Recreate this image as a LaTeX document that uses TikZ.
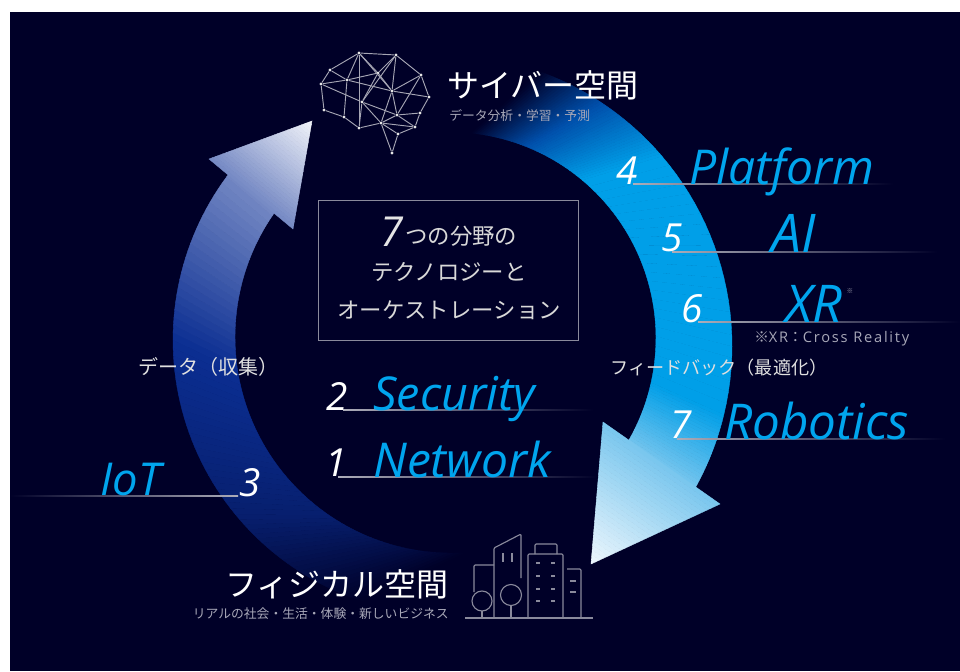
\documentclass[tikz,border=0pt]{standalone}
\usepackage{fontspec}
\usetikzlibrary{calc}
\newfontfamily\jpfont{Noto Sans CJK JP}
\newfontfamily\tagfont{Open Sans}
\newfontfamily\notefont[LetterSpace=12]{Open Sans}
\definecolor{panelbg}{HTML}{000028}
\definecolor{skyblue}{HTML}{009FE8}
\definecolor{midblue}{HTML}{0050AC}
\definecolor{tagblue}{HTML}{00A5EE}
\definecolor{softgray}{HTML}{A8A8B8}
\definecolor{linegray}{HTML}{8A8A9C}
\definecolor{rightbase}{HTML}{78C6EE}
\definecolor{righttip}{HTML}{EEF7FD}
\definecolor{deepa}{HTML}{071F6E}
\definecolor{deepb}{HTML}{0B2E92}
\definecolor{leftbase}{HTML}{7589C4}
\definecolor{lefttip}{HTML}{F2F4FA}
% one curved arrow body, cut in thin bands so the colour can run along it
\newcommand{\arcbands}[6]{
  \foreach \i in {1,...,24} {
    \pgfmathsetmacro{\oa}{#1+(#2-#1)*(\i-1)/24}
    \pgfmathsetmacro{\ob}{#1+(#2-#1)*\i/24}
    \pgfmathsetmacro{\ia}{#3+(#4-#3)*(\i-1)/24}
    \pgfmathsetmacro{\ib}{#3+(#4-#3)*\i/24}
    \pgfmathsetmacro{\mixp}{100*(\i-.5)/24}
    \fill[fill=#6!\mixp!#5, draw=#6!\mixp!#5, line width=.3pt]
      ([shift={(\oa:\outR)}]oc) -- ([shift={(\ob:\outR)}]oc)
      -- ([shift={(\ib:\inR)}]ic) -- ([shift={(\ia:\inR)}]ic) -- cycle;
  }
}
% arrow head: triangle from the barbs to the tip
\newcommand{\headbands}[5]{
  \foreach \i in {1,...,30} {
    \pgfmathsetmacro{\ta}{(\i-1)/30}
    \pgfmathsetmacro{\tb}{\i/30}
    \pgfmathsetmacro{\mixp}{100*(\i-.5)/30}
    \fill[fill=#5!\mixp!#4, draw=#5!\mixp!#4, line width=.3pt]
      ($(#1)!\ta!(#3)$) -- ($(#1)!\tb!(#3)$) -- ($(#2)!\tb!(#3)$) -- ($(#2)!\ta!(#3)$) -- cycle;
  }
}
\tikzset{
  title/.style={font=\jpfont\fontsize{24}{24}\selectfont, text=white, inner sep=0pt},
  subtitle/.style={font=\jpfont\fontsize{9.6}{10}\selectfont, text=softgray, inner sep=0pt},
  flowlabel/.style={font=\jpfont\fontsize{#1}{16}\selectfont, text=white!88!black, inner sep=0pt},
  boxtext/.style={font=\jpfont\fontsize{16.8}{17}\selectfont, text=white!85!black, inner sep=0pt},
  tag/.style={font=\tagfont\itshape\fontsize{#1}{#1}\selectfont, text=tagblue, inner sep=0pt, anchor=base west},
  tag/.default=36,
  num/.style={font=\tagfont\itshape\fontsize{29}{29}\selectfont, text=white, inner sep=0pt},
  braindot/.style={circle, fill=white!90!black, inner sep=0pt, minimum size=2.4pt},
  brainline/.style={draw=white!65!panelbg, line width=.7pt},
  cityline/.style={draw=linegray, line width=.85pt, line join=round, rounded corners=.8pt}
}
\begin{document}
\begin{tikzpicture}[x=.75pt,y=-.75pt]
  \useasboundingbox (0,0) rectangle (960,671);
  \fill[white] (0,0) rectangle (960,671);
  \fill[panelbg] (10,12) rectangle (960,671);

  % right arrow
  \coordinate (oc) at (440,346);
  \coordinate (ic) at (450,338);
  \def\outR{292}
  \def\inR{206}
  \arcbands{-70}{-56.2}{-84}{-68.1}{panelbg}{midblue}
  \arcbands{-56.2}{-40.5}{-68.1}{-50}{midblue}{skyblue}
  \arcbands{-40.5}{13.6}{-50}{12.5}{skyblue}{skyblue}
  \arcbands{13.6}{29.5}{12.5}{31}{skyblue}{rightbase}
  \coordinate (rbarbl) at (603,422);
  \coordinate (rbarbr) at (720,504);
  \coordinate (rtip) at (591,564);
  \headbands{rbarbl}{rbarbr}{rtip}{rightbase}{righttip}

  % left arrow
  \coordinate (oc) at (448,340);
  \coordinate (ic) at (451,337);
  \def\outR{275}
  \def\inR{216}
  \arcbands{108}{140.6}{86}{124.5}{panelbg}{deepa}
  \arcbands{140.6}{180}{124.5}{171}{deepa}{deepb}
  \arcbands{180}{218}{171}{216}{deepb}{leftbase}
  \coordinate (lbarbl) at (209,159);
  \coordinate (lbarbr) at (293,229);
  \coordinate (ltip) at (312,121);
  \headbands{lbarbl}{lbarbr}{ltip}{leftbase}{lefttip}

  % rules under the labels
  \foreach \xa/\xb/\yy in {633/893/184, 672/937/252, 698/960/322, 677/945/439, 343/593/410, 338/597/477} {
    \shade[left color=white!30!linegray, right color=panelbg] (\xa,\yy-.6) rectangle (\xb,\yy+.6);
  }
  \shade[left color=panelbg, right color=white!30!linegray] (10,495.4) rectangle (238,496.6);

  % labels
  \node[tag] (platform) at (689,184) {Platform};
  \node[tag=40] (ai) at (771,252) {AI};
  \node[tag=39] (xr) at (785,322) {XR};
  \node[font=\jpfont\fontsize{5}{5}\selectfont, text=softgray, inner sep=0pt] (xrmark) at (850,291) {※};
  \node[tag=37] (robotics) at (724,439) {Robotics};
  \node[tag=35] (security) at (373,410) {Security};
  \node[tag] (network) at (373,477) {Network};
  \node[tag=34] (iot) at (100,495) {IoT};

  \node[num] (n4) at (627,171) {4};
  \node[num] (n5) at (672,238) {5};
  \node[num] (n6) at (692,309) {6};
  \node[num] (n7) at (681,425) {7};
  \node[num] (n2) at (337,396) {2};
  \node[num] (n1) at (336,463) {1};
  \node[num] (n3) at (250,483) {3};

  \node[font=\notefont\fontsize{11}{11}\selectfont, text=softgray, inner sep=0pt, anchor=west] (xrnote) at (754,339)
    {{\jpfont ※}XR{\jpfont ：}Cross Reality};

  \node[title, anchor=west] (cyber) at (447,85) {サイバー空間};
  \node[subtitle, anchor=west] (cybersub) at (449,116) {データ分析・学習・予測};
  \node[title, anchor=east] (physical) at (449,584) {フィジカル空間};
  \node[subtitle, anchor=east] (physicalsub) at (449,614) {リアルの社会・生活・体験・新しいビジネス};
  \node[flowlabel=15, anchor=west] (collect) at (138,367) {データ（収集）};
  \node[flowlabel=13.6, anchor=west] (feedback) at (610,368) {フィードバック（最適化）};

  % centre box
  \draw[draw=linegray, line width=.75pt] (318,200) rectangle (578,340);
  \node[font=\tagfont\itshape\fontsize{31}{31}\selectfont, text=white!90!black, inner sep=0pt] (seven) at (392,232) {7};
  \node[boxtext, anchor=west] (boxa) at (405,236) {つの分野の};
  \node[boxtext] (boxb) at (449,272) {テクノロジーと};
  \node[boxtext] (boxc) at (449,310) {オーケストレーション};

  % brain
  \foreach \name/\pos in {a/{359,53}, b/{396,55}, c/{421,75}, d/{429,97}, e/{420,113}, f/{415,127},
      g/{398,134}, h/{392,153}, i/{381,123}, j/{359,128}, k/{344,117}, l/{324,110}, m/{321,84},
      n/{330,70}, o/{347,80}, p/{362,102}, q/{392,91}, r/{378,73}, s/{397,115}} {
    \node[braindot] (\name) at (\pos) {};
  }
  \foreach \from/\to in {n/a, a/b, b/c, c/d, d/e, e/f, f/g, g/h, h/i, i/j, j/k, k/l, l/m, m/n,
      a/o, o/k, a/j, m/o, n/o, o/r, r/b, a/r, r/q, o/q, q/d, a/q, b/q, q/s, m/p, p/s, s/f,
      c/s, c/q, r/p, p/j, p/i, i/s, i/f, i/g, q/i, s/e, b/p} {
    \draw[brainline] (\from) -- (\to);
  }

  % city
  \draw[cityline] (465,618) -- (593,618);
  \draw[cityline] (474,592) -- (474,565) -- (494,565);
  \draw[cityline] (494,618) -- (494,548) -- (521,534) -- (521,578);
  \draw[cityline] (503,553) -- (503,562);
  \draw[cityline] (512,553) -- (512,562);
  \draw[cityline] (482,601) circle (10);
  \draw[cityline] (482,611) -- (482,618);
  \draw[cityline] (511,595) circle (10.5);
  \draw[cityline] (511,606) -- (511,618);
  \draw[cityline] (528,618) -- (528,554) -- (563,554) -- (563,618);
  \draw[cityline] (535,554) -- (535,544) -- (557,544) -- (557,554);
  \foreach \yy in {563,576,589,601} {
    \draw[cityline] (536,\yy) -- (540,\yy);
    \draw[cityline] (551,\yy) -- (555,\yy);
  }
  \draw[cityline] (567,569) -- (581,569) -- (581,618);
  \draw[cityline] (570,581) -- (576,581);
  \draw[cityline] (570,592) -- (576,592);
\end{tikzpicture}
\end{document}
